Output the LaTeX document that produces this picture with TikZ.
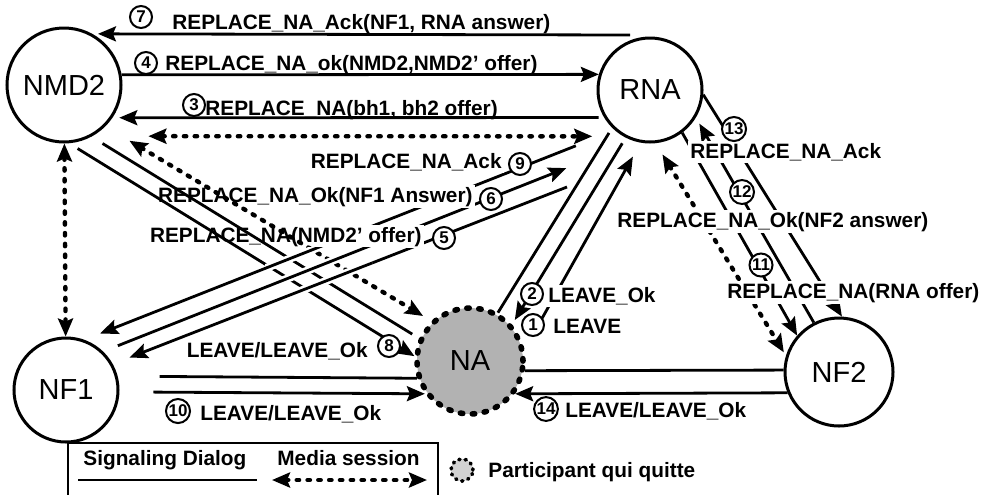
\documentclass[tikz,border=0pt]{standalone}
\usepackage{fontspec}
\setmainfont{Liberation Sans}
\usetikzlibrary{arrows.meta,positioning}

\begin{document}
\begin{tikzpicture}[x=0.5pt,y=-0.5pt,>={Stealth[length=9pt,width=7.5pt,inset=1.5pt]},
    ent/.style={circle,draw,line width=1.5pt,font=\fontsize{14.5}{16}\selectfont},
    leaving/.style={circle,draw,fill=gray!60,line width=2.8pt,dash pattern=on 1.2pt off 4.8pt,line cap=round,font=\fontsize{14.5}{16}\selectfont},
    num/.style={circle,draw,fill=white,line width=1pt,inner sep=0.3pt,minimum size=11pt,font=\fontsize{8.5}{9}\selectfont\bfseries},
    lbl/.style={inner sep=1pt,font=\fontsize{10.4}{12}\selectfont\bfseries},
    lblw/.style={lbl,fill=white},
    sig/.style={line width=1.4pt},
    media/.style={<->,line width=2.2pt,line cap=round,dash pattern=on 1.2pt off 4.2pt}]
    \useasboundingbox (0,0) rectangle (989,494);
    \node[ent,minimum size=57pt] (NMD2) at (64,85) {NMD2};
    \node[ent,minimum size=52pt] (RNA) at (650,90) {RNA};
    \node[ent,minimum size=52pt] (NF1) at (66,390) {NF1};
    \node[ent,minimum size=54pt] (NF2) at (839,372) {NF2};
    \node[leaving,minimum size=53pt] (NA) at (470,361) {NA};
    \coordinate (t7) at (630,35);
    \coordinate (t5) at (567,187);

    \draw[sig,->,shorten >=2.8pt] (t7) -- (NMD2.61);
    \draw[sig,->] (NMD2.10) -- (RNA.163);
    \draw[sig,->,shorten <=2.8pt,shorten >=3.4pt] (RNA.211) -- (NMD2.-34);
    \draw[media,shorten <=28pt,shorten >=15.5pt] (NMD2.-61) -- (RNA.240);
    \draw[media] (NMD2) -- (NF1);
    \draw[sig,->,shorten <=21pt,shorten >=8.5pt] (RNA.229) -- (NF1.70);
    \draw[sig,->,shorten <=7.9pt,shorten >=36.6pt] (NF1.46) -- (RNA.253);
    \draw[sig,->,shorten >=9pt] (t5) -- (NF1.29);
    \draw[sig,shorten <=3pt] (RNA.225) -- (NA.60);
    \draw[sig,->,shorten <=3.3pt,shorten >=2.6pt] (RNA.243) -- (NA.41);
    \draw[sig,->,shorten <=12pt,shorten >=8pt] (NA.12) -- (RNA.260);
    \draw[sig,->] (RNA.-5) -- (NF2.87);
    \draw[sig,->,shorten >=3.5pt] (NF2.117) -- (RNA.-31);
    \draw[sig,->] (RNA.-53) -- (NF2.139);
    \draw[media,shorten <=6.6pt,shorten >=2pt] (RNA.-84) -- (NF2.163);
    \draw[sig,shorten <=21pt] (NF1.15) -- (NA.198);
    \draw[sig,->,shorten <=17pt] (NF1.-2) -- (NA.216);
    \draw[sig] (NA.-10) -- (NF2.178);
    \draw[sig,->] (NF2.202) -- (NA.-36);

    \node[lbl,anchor=base west] (m7) at (170,29) {REPLACE\_NA\_Ack(NF1, RNA answer)};
    \node[lbl,anchor=base west] (m4) at (163,70) {REPLACE\_NA\_ok(NMD2,NMD2' offer)};
    \node[lbl,anchor=base west] (m3) at (203,115) {REPLACE\_NA(bh1, bh2 offer)};
    \node[lblw,anchor=base east] (m9) at (504,168) {REPLACE\_NA\_Ack};
    \node[lblw,anchor=base east] (m6) at (475,202) {REPLACE\_NA\_Ok(NF1 Answer)};
    \node[lblw,anchor=base east] (m5) at (424,242) {REPLACE\_NA(NMD2' offer)};
    \node[lblw,anchor=base east] (m8) at (370,357) {LEAVE/LEAVE\_Ok};
    \node[lblw,anchor=base west] (m2) at (546,302) {LEAVE\_Ok};
    \node[lblw,anchor=base west] (m1) at (551,333) {LEAVE};
    \node[lbl,anchor=base west] (m10) at (198,420) {LEAVE/LEAVE\_Ok};
    \node[lbl,anchor=base west] (m14) at (563,417) {LEAVE/LEAVE\_Ok};
    \node[lblw,anchor=base west] (m13) at (688,158) {REPLACE\_NA\_Ack};
    \node[lblw,anchor=base west] (m12) at (615,227) {REPLACE\_NA\_Ok(NF2 answer)};
    \node[lblw,anchor=base west] (m11) at (725,298) {REPLACE\_NA(RNA offer)};

    \draw[sig,shorten <=6.5pt,shorten >=4pt] (NMD2.-62) -- (NA.156);
    \draw[sig,->,shorten <=5pt] (NMD2.-85) -- (NA.175);
    \draw[media,shorten <=14pt,shorten >=4.75pt] (NMD2.-45) -- (NA.134);
    \begin{scope}
        \clip (265,247) rectangle (372,305);
        \draw[sig,preaction={draw=white,line width=4pt}] (RNA.229) -- (NF1.70);
        \draw[sig,preaction={draw=white,line width=4pt}] (NF1.46) -- (RNA.253);
        \draw[sig,preaction={draw=white,line width=4pt}] (t5) -- (NF1.29);
    \end{scope}

    \node[num] (c7) at (141,17) {7};
    \node[num] (c4) at (146,63) {4};
    \node[num] (c3) at (194,105) {3};
    \node[num] (c9) at (520,164) {9};
    \node[num] (c6) at (491,199) {6};
    \node[num] (c5) at (444,238) {5};
    \node[num] (c8) at (389,346) {8};
    \node[num] (c2) at (532,294) {2};
    \node[num] (c1) at (533,325) {1};
    \node[num] (c10) at (178,411) {10};
    \node[num] (c14) at (546,409) {14};
    \node[num] (c13) at (734,129) {13};
    \node[num] (c12) at (742,192) {12};
    \node[num] (c11) at (761,265) {11};

    \draw[line width=1pt] (68,443) rectangle (438,500);
    \node[lbl,anchor=base west] (ldia) at (81,465) {Signaling Dialog};
    \node[lbl,anchor=base west] (lmed) at (275,465) {Media session};
    \coordinate (ls1) at (78,480);
    \coordinate (ls2) at (257,480);
    \coordinate (lm1) at (272,480);
    \coordinate (lm2) at (427,480);
    \draw[sig] (ls1) -- (ls2);
    \draw[media] (lm1) -- (lm2);
    \node[leaving,fill=gray!35,minimum size=11pt,line width=1.8pt,dash pattern=on 0.6pt off 2.6pt] (lna) at (462,470) {};
    \node[lbl,anchor=base west] (lpq) at (486,477) {Participant qui quitte};
\end{tikzpicture}
\end{document}
